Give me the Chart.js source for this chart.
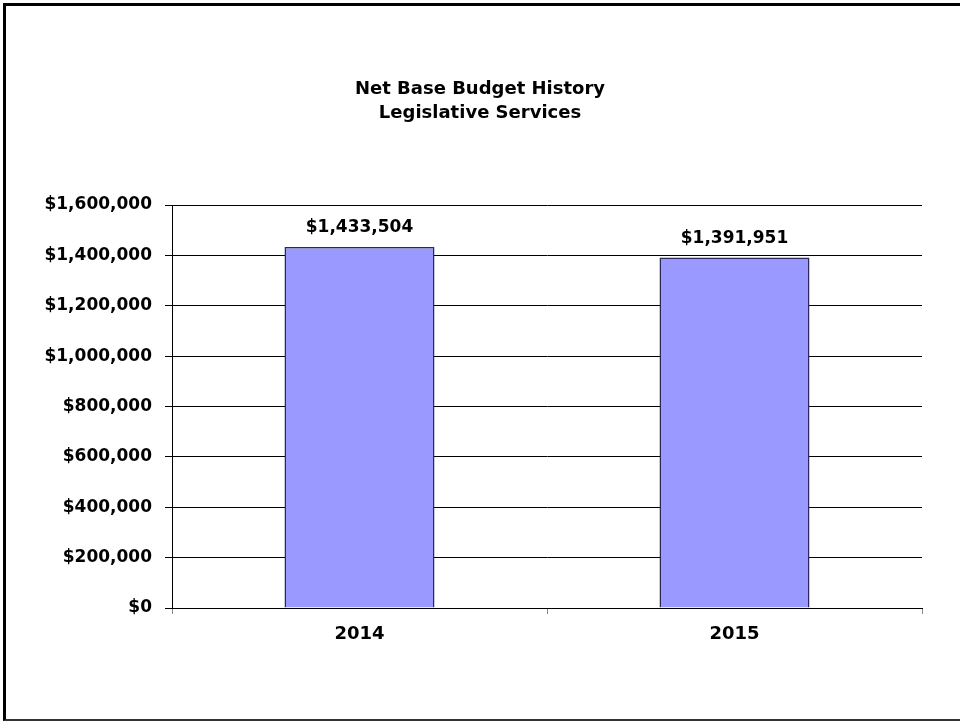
<!DOCTYPE html>
<html>
<head>
<meta charset="utf-8">
<title>Net Base Budget History</title>
<script src="https://cdn.jsdelivr.net/npm/chart.js@4.4.0/dist/chart.umd.min.js"></script>
<style>
  body { margin: 0; background: #fff; overflow: hidden; }
  #wrap { position: relative; width: 960px; height: 721px; }
  #frame {
    position: absolute; left: 3px; top: 3px; width: 1000px; height: 713px;
    border-left: 3px solid #000; border-top: 3px solid #000; border-bottom: 2px solid #333;
  }
  canvas { position: absolute; left: 0; top: 0; }
</style>
</head>
<body>
<div id="wrap">
  <div id="frame"></div>
  <canvas id="budgetChart" width="960" height="721"></canvas>
</div>
<script>
// fiscal years and net base budget
const years = ['2014', '2015'];
const budget = [1433504, 1391951];
const titleLines = ['Net Base Budget History', 'Legislative Services'];
const yMax = 1600000;
const yStep = 200000;

const FONT = "'DejaVu Sans', 'Liberation Sans', Arial, sans-serif";
const money = v => '$' + Number(v).toLocaleString('en-US');

// two-line heading, centred on the whole page
const heading = {
  id: 'heading',
  afterDraw(chart) {
    const ctx = chart.ctx;
    ctx.save();
    ctx.font = 'bold 18px ' + FONT;
    ctx.fillStyle = '#000';
    ctx.textAlign = 'center';
    ctx.textBaseline = 'middle';
    titleLines.forEach((line, i) => ctx.fillText(line, chart.width / 2, 89 + i * 24));
    ctx.restore();
  }
};

// dollar figures above each bar
const valueLabels = {
  id: 'valueLabels',
  afterDatasetsDraw(chart) {
    const ctx = chart.ctx;
    const meta = chart.getDatasetMeta(0);
    ctx.save();
    ctx.font = 'bold 17px ' + FONT;
    ctx.fillStyle = '#000';
    ctx.textAlign = 'center';
    ctx.textBaseline = 'middle';
    meta.data.forEach((bar, i) => {
      ctx.fillText(money(budget[i]), bar.x, bar.y - 19);
    });
    ctx.restore();
  }
};

const ctx = document.getElementById('budgetChart').getContext('2d');
new Chart(ctx, {
  type: 'bar',
  data: {
    labels: years,
    datasets: [{
      data: budget,
      backgroundColor: '#9999ff',
      borderColor: '#2a2a5a',
      borderWidth: 1.5,
      borderSkipped: 'bottom',
      categoryPercentage: 0.4,
      barPercentage: 1
    }]
  },
  options: {
    responsive: false,
    animation: false,
    layout: { padding: { left: 0, right: 38, top: 205, bottom: 0 } },
    plugins: {
      legend: { display: false },
      tooltip: { enabled: false },
      title: { display: false }
    },
    scales: {
      y: {
        min: 0,
        max: yMax,
        afterFit(scale) { scale.width = 172; },
        ticks: {
          stepSize: yStep,
          color: '#000',
          padding: 13,
          font: { family: FONT, size: 17, weight: 'bold' },
          callback: v => money(v)
        },
        grid: { color: '#000', lineWidth: 1, tickLength: 7, tickColor: '#000' },
        border: { color: '#000', width: 1 }
      },
      x: {
        afterFit(scale) { scale.height = 113; },
        ticks: {
          color: '#000',
          padding: 10,
          font: { family: FONT, size: 18, weight: 'bold' }
        },
        grid: { offset: true, drawOnChartArea: false, tickLength: 6, tickColor: '#888' },
        border: { color: '#000', width: 1 }
      }
    }
  },
  plugins: [valueLabels, heading]
});
</script>
</body>
</html>
